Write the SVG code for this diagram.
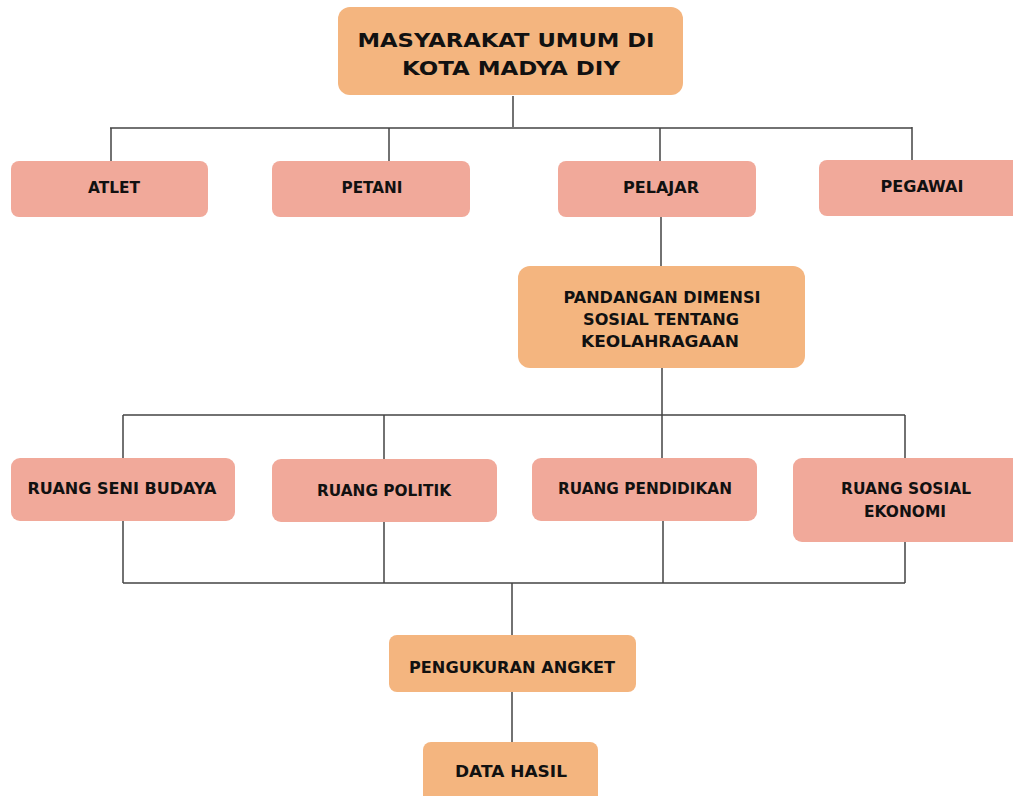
<svg xmlns="http://www.w3.org/2000/svg" width="1013" height="796" viewBox="0 0 1013 796">
<style>
.o{fill:#F4B57F}
.p{fill:#F1A99A}
text{font-family:"DejaVu Sans","Open Sans",sans-serif;font-weight:700;fill:#111;text-anchor:middle;font-size:15px}
.big{font-size:20px}
.c{stroke:#444;stroke-width:1.5;fill:none}
</style>
<rect width="1013" height="796" fill="#fff"/>
<g id="connectors" class="c">
<path d="M513 96V127M110 128H912M111 128V161M389 128V161M660 128V161M912 127V160"/>
<path d="M661 217V266M662 368V415M123 415H905M123 415V458M384 415V459M662 415V458M905 415V458"/>
<path d="M123 521V583M384 522V583M663 521V583M905 542V583M123 583H905M512 583V635M512 692V742"/>
</g>
<g id="n-masyarakat"><rect class="o" x="338" y="7" width="345" height="88" rx="12"/><text class="big" x="506" y="47" textLength="297" lengthAdjust="spacingAndGlyphs">MASYARAKAT UMUM DI</text><text class="big" x="511" y="75" textLength="218" lengthAdjust="spacingAndGlyphs">KOTA MADYA DIY</text></g>
<g id="n-atlet"><rect class="p" x="11" y="161" width="197" height="56" rx="8"/><text x="114" y="193" textLength="52" lengthAdjust="spacingAndGlyphs">ATLET</text></g>
<g id="n-petani"><rect class="p" x="272" y="161" width="198" height="56" rx="8"/><text x="372" y="193" textLength="61" lengthAdjust="spacingAndGlyphs">PETANI</text></g>
<g id="n-pelajar"><rect class="p" x="558" y="161" width="198" height="56" rx="8"/><text x="661" y="193" textLength="76" lengthAdjust="spacingAndGlyphs">PELAJAR</text></g>
<g id="n-pegawai"><rect class="p" x="819" y="160" width="204" height="56" rx="8"/><text x="922" y="192" textLength="83" lengthAdjust="spacingAndGlyphs">PEGAWAI</text></g>
<g id="n-pandangan"><rect class="o" x="518" y="266" width="287" height="102" rx="12"/><text x="662" y="303" textLength="197" lengthAdjust="spacingAndGlyphs">PANDANGAN DIMENSI</text><text x="661" y="325" textLength="156" lengthAdjust="spacingAndGlyphs">SOSIAL TENTANG</text><text x="660" y="347" textLength="158" lengthAdjust="spacingAndGlyphs">KEOLAHRAGAAN</text></g>
<g id="n-seni"><rect class="p" x="11" y="458" width="224" height="63" rx="9"/><text x="122" y="494" textLength="189" lengthAdjust="spacingAndGlyphs">RUANG SENI BUDAYA</text></g>
<g id="n-politik"><rect class="p" x="272" y="459" width="225" height="63" rx="9"/><text x="384" y="496" textLength="134" lengthAdjust="spacingAndGlyphs">RUANG POLITIK</text></g>
<g id="n-pendidikan"><rect class="p" x="532" y="458" width="225" height="63" rx="9"/><text x="645" y="494" textLength="174" lengthAdjust="spacingAndGlyphs">RUANG PENDIDIKAN</text></g>
<g id="n-sosial"><rect class="p" x="793" y="458" width="230" height="84" rx="9"/><text x="906" y="494" textLength="130" lengthAdjust="spacingAndGlyphs">RUANG SOSIAL</text><text x="905" y="517" textLength="82" lengthAdjust="spacingAndGlyphs">EKONOMI</text></g>
<g id="n-angket"><rect class="o" x="389" y="635" width="247" height="57" rx="8"/><text x="512" y="673" textLength="206" lengthAdjust="spacingAndGlyphs">PENGUKURAN ANGKET</text></g>
<g id="n-data"><rect class="o" x="423" y="742" width="175" height="64" rx="8"/><text x="511" y="777" textLength="112" lengthAdjust="spacingAndGlyphs">DATA HASIL</text></g>
</svg>
